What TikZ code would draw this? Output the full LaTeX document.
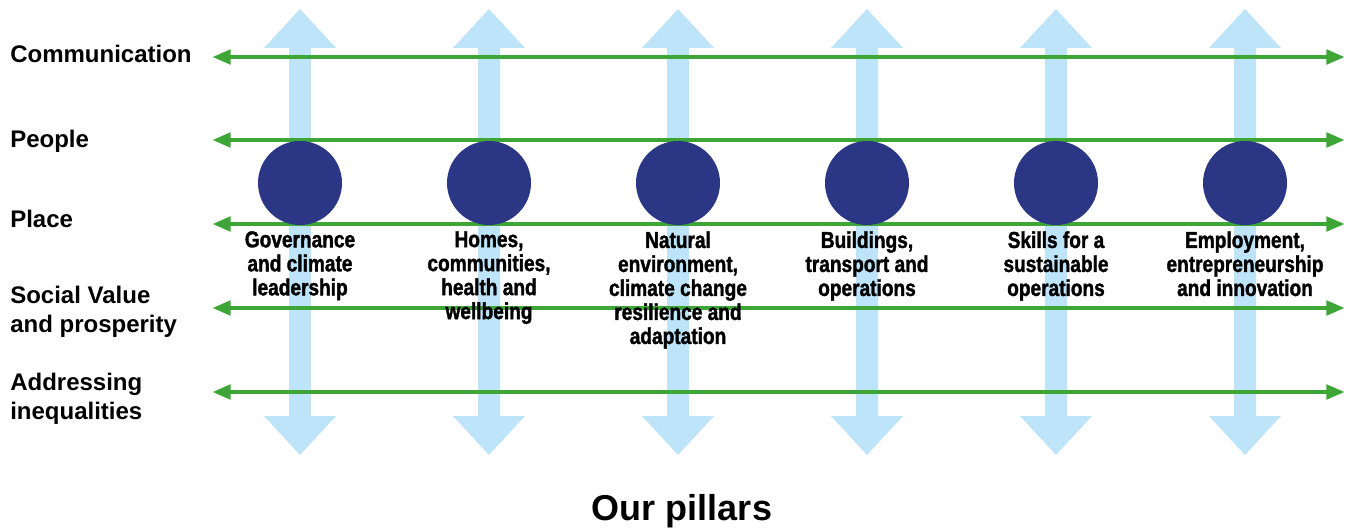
\documentclass[tikz,border=0pt]{standalone}
\usepackage{fontspec}
\setmainfont{Liberation Sans}
\newfontfamily\pillarfont{Liberation Sans}[FakeStretch=0.83,FakeBold=1.5]
\usetikzlibrary{arrows.meta,positioning}
\definecolor{RowGreen}{RGB}{62,165,55}
\definecolor{PillarSky}{RGB}{190,228,249}
\definecolor{PillarNavy}{RGB}{43,55,132}

\begin{document}
\begin{tikzpicture}[x=0.75pt,y=-0.75pt,>={Triangle[length=14pt,width=10.5pt]},
  rowline/.style={<->,RowGreen,line width=3.6pt},
  pillar/.style={circle,fill=PillarNavy,minimum size=63pt,inner sep=0pt},
  pillartext/.style={anchor=north,align=center,inner sep=0pt,
    font=\pillarfont\bfseries\fontsize{17.25}{18}\selectfont},
  rowtext/.style={align=left,inner sep=0pt,
    font=\bfseries\fontsize{18}{21.5}\selectfont}]
  \useasboundingbox (0,0) rectangle (1352,528);

  % light blue pillar arrows
  \foreach \x in {300,489,678,867,1056,1245}
    \fill[PillarSky] (\x,9) -- (\x+36,48) -- (\x+11,48) -- (\x+11,416)
      -- (\x+36,416) -- (\x,455) -- (\x-36,416) -- (\x-11,416)
      -- (\x-11,48) -- (\x-36,48) -- cycle;

  % green rows
  \coordinate (commL) at (212,57);   \coordinate (commR) at (1345,57);
  \coordinate (peopleL) at (212,140); \coordinate (peopleR) at (1345,140);
  \coordinate (placeL) at (212,224);  \coordinate (placeR) at (1345,224);
  \coordinate (socialL) at (212,308); \coordinate (socialR) at (1345,308);
  \coordinate (ineqL) at (212,392);   \coordinate (ineqR) at (1345,392);
  \draw[rowline] (commL) -- (commR);
  \draw[rowline] (peopleL) -- (peopleR);
  \draw[rowline] (placeL) -- (placeR);
  \draw[rowline] (socialL) -- (socialR);
  \draw[rowline] (ineqL) -- (ineqR);

  \node[rowtext,anchor=base west] (comm) at (10,63) {Communication};
  \node[rowtext,anchor=base west] (people) at (10,147) {People};
  \node[rowtext,anchor=base west] (place) at (10,227) {Place};
  \node[rowtext,anchor=west] (social) at (10,312) {Social Value\\and prosperity};
  \node[rowtext,anchor=west] (ineq) at (10,399) {Addressing\\inequalities};

  % pillars
  \node[pillar] (gov) at (300,183) {};
  \node[pillar] (homes) at (489,183) {};
  \node[pillar] (nature) at (678,183) {};
  \node[pillar] (build) at (867,183) {};
  \node[pillar] (skills) at (1056,183) {};
  \node[pillar] (employ) at (1245,183) {};

  \node[pillartext] (govtext) at (300,231) {Governance\\and climate\\leadership};
  \node[pillartext] (homestext) at (489,231) {Homes,\\communities,\\health and\\wellbeing};
  \node[pillartext] (naturetext) at (678,231) {Natural\\environment,\\climate change\\resilience and\\adaptation};
  \node[pillartext] (buildtext) at (867,231) {Buildings,\\transport and\\operations};
  \node[pillartext] (skillstext) at (1056,231) {Skills for a\\sustainable\\operations};
  \node[pillartext] (employtext) at (1245,231) {Employment,\\entrepreneurship\\and innovation};

  \node[font=\bfseries\fontsize{27}{30}\selectfont,anchor=base,inner sep=0pt] (title) at (682,520) {Our pillars};
\end{tikzpicture}
\end{document}
